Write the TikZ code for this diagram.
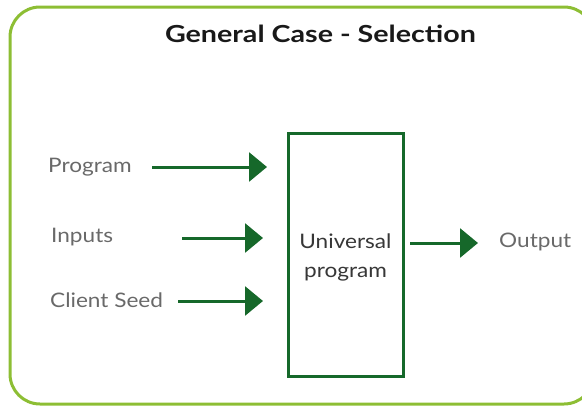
\documentclass[tikz,border=0pt]{standalone}
\usepackage{fontspec}
\setmainfont{Lato}
\newfontfamily\labelfont{Lato}[FakeStretch=1.13]
\newfontfamily\titlefont{Lato}[FakeStretch=1.22]
\usetikzlibrary{arrows.meta}
\definecolor{frameGreen}{RGB}{141,190,52}
\definecolor{flowGreen}{RGB}{22,104,42}
\definecolor{labelGray}{RGB}{105,105,105}
\definecolor{boxText}{RGB}{55,55,55}
\definecolor{titleText}{RGB}{25,25,25}
\tikzset{
  frame/.style={draw=frameGreen, line width=3pt, rounded corners=30pt},
  unit/.style={draw=flowGreen, line width=3pt},
  flow/.style={draw=flowGreen, line width=3pt,
    -{Triangle[length=18pt,width=29pt]}, color=flowGreen},
  lbl/.style={inner sep=0pt, text=labelGray, font=\labelfont\fontsize{20}{24}\selectfont},
  boxlbl/.style={inner sep=0pt, text=boxText, font=\labelfont\fontsize{20}{24}\selectfont},
  ttl/.style={inner sep=0pt, text=titleText, font=\titlefont\fontsize{23.5}{28}\selectfont\bfseries},
}
\begin{document}
\begin{tikzpicture}[x=1pt,y=-1pt]
  \useasboundingbox (0,0) rectangle (582,407);
  % outer frame, running off the right edge
  \draw[frame] (10,7) rectangle (594,404);
  % title
  \node[ttl, anchor=base] (title) at (320.5,42) {General Case - Selection};
  % central processing box
  \draw[unit] (288,133) rectangle (403,376);
  \node[boxlbl, anchor=base] (uni1) at (345.5,248) {Universal};
  \node[boxlbl, anchor=base] (uni2) at (345.5,277) {program};
  % input labels
  \node[lbl, anchor=base west] (prog) at (48,172) {Program};
  \node[lbl, anchor=base west] (inp) at (51,242) {Inputs};
  \node[lbl, anchor=base west] (seed) at (50,307) {Client Seed};
  \node[lbl, anchor=base west] (out) at (499,247) {Output};
  % arrow end points
  \coordinate (progA) at (152,167);
  \coordinate (progB) at (267,167);
  \coordinate (inpA) at (182,238);
  \coordinate (inpB) at (263,238);
  \coordinate (seedA) at (178,301);
  \coordinate (seedB) at (263,301);
  \coordinate (outA) at (410,243);
  \coordinate (outB) at (478,243);
  \draw[flow] (progA) -- (progB);
  \draw[flow] (inpA) -- (inpB);
  \draw[flow] (seedA) -- (seedB);
  \draw[flow] (outA) -- (outB);
\end{tikzpicture}
\end{document}
